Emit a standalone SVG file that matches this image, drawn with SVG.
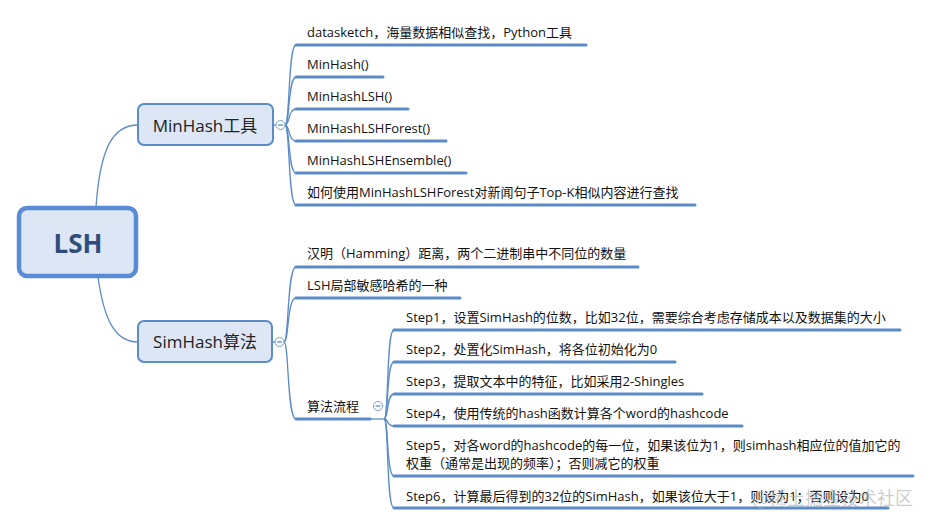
<svg xmlns="http://www.w3.org/2000/svg" width="932" height="526" viewBox="0 0 932 526">
<style>
.conn{fill:none;stroke:#5b8bc9;stroke-width:1.3}
.ul{fill:none;stroke:#5b8bc9;stroke-width:3;stroke-linecap:round}
.root{fill:#dce6f4;stroke:#5a8bd6;stroke-width:4.5}
.main{fill:#dce6f4;stroke:#5b8bc9;stroke-width:2}
.col{fill:#fff;stroke:#7a9fd0;stroke-width:1}
.t{font-family:"Open Sans","Noto Sans CJK SC",sans-serif;font-size:13px;fill:#111;dominant-baseline:central}
.mt{font-family:"Open Sans","Noto Sans CJK SC",sans-serif;font-size:17px;fill:#222;text-anchor:middle;dominant-baseline:central}
.rt{font-family:"Open Sans","Noto Sans CJK SC",sans-serif;font-size:26px;font-weight:bold;fill:#2f4d7c;text-anchor:middle;dominant-baseline:central}
</style>
<rect width="932" height="526" fill="#fff"/>
<g id="connectors">
<path class="conn" d="M96,207 C100,150 112,125 138,125"/>
<path class="conn" d="M98,277 C104,320 115,342 138,342"/>
<path class="conn" d="M273,125 H276"/>
<path class="conn" d="M272,342 H275"/>
<path class="conn" d="M285,125 C290,125 288,45 296,45"/>
<path class="conn" d="M285,125 C290,125 288,77 296,77"/>
<path class="conn" d="M285,125 C290,125 288,109 296,109"/>
<path class="conn" d="M285,125 C290,125 288,141 296,141"/>
<path class="conn" d="M285,125 C290,125 288,173 296,173"/>
<path class="conn" d="M285,125 C290,125 288,205 296,205"/>
<path class="conn" d="M284,342 C289,342 287,267 296,267"/>
<path class="conn" d="M284,342 C289,342 287,298 296,298"/>
<path class="conn" d="M284,342 C289,342 287,419 296,419"/>
<path class="conn" d="M370,419 H384"/>
<path class="conn" d="M384,419 C389,419 386,330 394,330"/>
<path class="conn" d="M384,419 C389,419 386,362 394,362"/>
<path class="conn" d="M384,419 C389,419 386,394 394,394"/>
<path class="conn" d="M384,419 C389,419 386,426 394,426"/>
<path class="conn" d="M384,419 C389,419 386,476 394,476"/>
<path class="conn" d="M384,419 C389,419 386,508 394,508"/>
</g>
<g id="root">
<rect class="root" x="19" y="208" width="117" height="68" rx="8"/>
<text class="rt" x="78" y="243">LSH</text>
</g>
<g id="minhash">
<rect class="main" x="138" y="104" width="135" height="41" rx="6"/>
<text class="mt" x="205" y="125">MinHash工具</text>
<circle class="col" cx="280.5" cy="125" r="4.5"/>
<path class="conn" d="M278,125 H283"/>
</g>
<g id="simhash">
<rect class="main" x="138" y="321" width="134" height="41" rx="6"/>
<text class="mt" x="205" y="341">SimHash算法</text>
<circle class="col" cx="279.5" cy="342" r="4.5"/>
<path class="conn" d="M277,342 H282"/>
</g>
<g id="m1"><text class="t" x="307" y="32">datasketch，海量数据相似查找，Python工具</text><path class="ul" d="M296,45 H586"/></g>
<g id="m2"><text class="t" x="307" y="64">MinHash()</text><path class="ul" d="M296,77 H383"/></g>
<g id="m3"><text class="t" x="307" y="96">MinHashLSH()</text><path class="ul" d="M296,109 H408"/></g>
<g id="m4"><text class="t" x="307" y="128">MinHashLSHForest()</text><path class="ul" d="M296,141 H446"/></g>
<g id="m5"><text class="t" x="307" y="160">MinHashLSHEnsemble()</text><path class="ul" d="M296,173 H466"/></g>
<g id="m6"><text class="t" x="307" y="192">如何使用MinHashLSHForest对新闻句子Top-K相似内容进行查找</text><path class="ul" d="M296,205 H695"/></g>
<g id="s1"><text class="t" x="307" y="253">汉明（Hamming）距离，两个二进制串中不同位的数量</text><path class="ul" d="M296,267 H638"/></g>
<g id="s2"><text class="t" x="307" y="285">LSH局部敏感哈希的一种</text><path class="ul" d="M296,298 H460"/></g>
<g id="s3"><text class="t" x="307" y="406">算法流程</text><path class="ul" d="M296,419 H370"/>
<circle class="col" cx="378" cy="406" r="4.5"/><path class="conn" d="M375.5,406 H380.5"/></g>
<g id="step1"><text class="t" x="406" y="317">Step1，设置SimHash的位数，比如32位，需要综合考虑存储成本以及数据集的大小</text><path class="ul" d="M394,330 H900"/></g>
<g id="step2"><text class="t" x="406" y="349">Step2，处置化SimHash，将各位初始化为0</text><path class="ul" d="M394,362 H675"/></g>
<g id="step3"><text class="t" x="406" y="381">Step3，提取文本中的特征，比如采用2-Shingles</text><path class="ul" d="M394,394 H702"/></g>
<g id="step4"><text class="t" x="406" y="413">Step4，使用传统的hash函数计算各个word的hashcode</text><path class="ul" d="M394,426 H742"/></g>
<g id="step5"><text class="t" x="406" y="445">Step5，对各word的hashcode的每一位，如果该位为1，则simhash相应位的值加它的</text><text class="t" x="406" y="463">权重（通常是出现的频率）；否则减它的权重</text><path class="ul" d="M394,476 H913"/></g>
<g id="step6"><text class="t" x="406" y="496">Step6，计算最后得到的32位的SimHash，如果该位大于1，则设为1；否则设为0</text><path class="ul" d="M394,508 H888"/></g>
<text x="752" y="497" font-family="Noto Sans CJK SC,sans-serif" font-size="18" fill="#aaa" fill-opacity="0.6" dominant-baseline="central">@稀土掘金技术社区</text>
</svg>
